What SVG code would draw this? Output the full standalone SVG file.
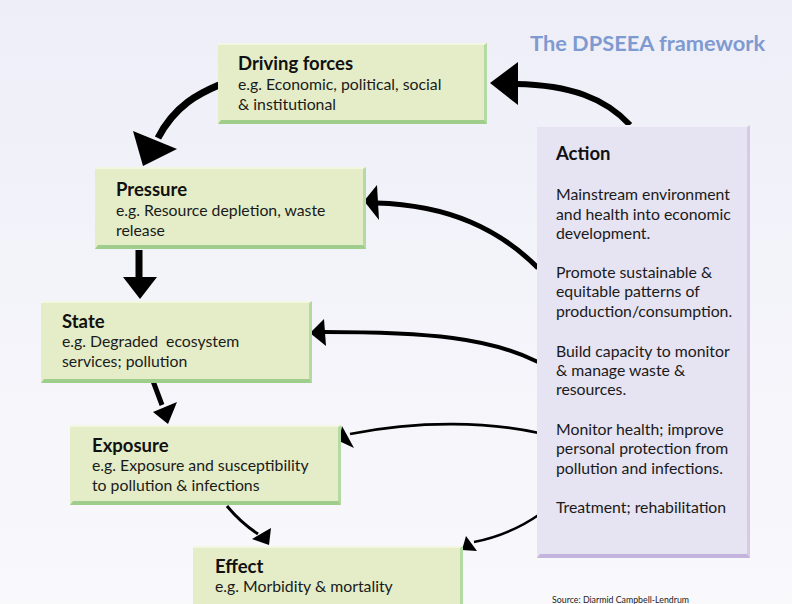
<svg xmlns="http://www.w3.org/2000/svg" width="792" height="604" viewBox="0 0 792 604">
<defs>
<linearGradient id="bg" x1="0" y1="0" x2="0" y2="1">
<stop offset="0" stop-color="#eeeef8"/>
<stop offset="1" stop-color="#f9f9fc"/>
</linearGradient>
<style>
.box{fill:#e4edc7}
.hi{fill:#f3f7e2}
.sh{fill:#9fcd8c}
.sr{fill:#b5d9a2}
.abox{fill:#e6e3f2}
.ahi{fill:#f1eff8}
.ash{fill:#c4b3dc}
.asr{fill:#d6cae6}
.t{font-family:Lato,"Open Sans","Liberation Sans",sans-serif;font-size:18.5px;font-weight:bold;fill:#111}
.b{font-family:Lato,"Open Sans","Liberation Sans",sans-serif;font-size:15.8px;fill:#1a1a1a;white-space:pre}
.ln{fill:none;stroke:#000;stroke-linecap:butt}
.hd{fill:#000}
</style>
</defs>
<rect x="0" y="0" width="792" height="604" fill="url(#bg)"/>
<text x="530" y="51" style="font-family:Lato,'Open Sans','Liberation Sans',sans-serif;font-size:21.8px;font-weight:bold;fill:#7f9ad0">The DPSEEA framework</text>

<g id="connectors">
<path class="ln" d="M219,85 C200,93 175,105 158,138" stroke-width="7"/>
<polygon class="hd" points="133,131 177,149 143,166"/>
<path class="ln" d="M139,250 L139,278" stroke-width="7"/>
<polygon class="hd" points="123,277 157,277 140,299"/>
<path class="ln" d="M153,381 L162,405" stroke-width="5"/>
<polygon class="hd" points="153,412 177,402 168,424"/>
<path class="ln" d="M227,506 Q240,522 258,534" stroke-width="3"/>
<polygon class="hd" points="252,539 271,528 269,545"/>
<path class="ln" d="M630,125 C605,98 570,85 516,84" stroke-width="6"/>
<polygon class="hd" points="518,62 518,105 490,83"/>
<path class="ln" d="M538,268 C500,230 450,205 376,203" stroke-width="5"/>
<polygon class="hd" points="377,185 379,220 364,201"/>
<path class="ln" d="M538,362 C490,338 430,332 323,332" stroke-width="4"/>
<polygon class="hd" points="324,319 326,346 310,333"/>
<path class="ln" d="M539,433 C490,422 420,420 350,434" stroke-width="2.6"/>
<polygon class="hd" points="342,426 354,448 339,441"/>
<path class="ln" d="M540,514 Q510,535 474,542" stroke-width="2.5"/>
<polygon class="hd" points="466,536 477,551 462,550"/>
</g>

<g id="driving">
<rect class="box" x="218" y="43" width="269" height="81"/>
<rect class="hi" x="218" y="43" width="269" height="2"/>
<polygon class="sr" points="484,45 487,43 487,124 484,121"/>
<polygon class="sh" points="218,124 487,124 484,120 221,120"/>
<text class="t" x="238" y="70">Driving forces</text>
<text class="b" x="238" y="90">e.g. Economic, political, social</text>
<text class="b" x="238" y="110">&amp; institutional</text>
</g>

<g id="pressure">
<rect class="box" x="95" y="167" width="271" height="82"/>
<rect class="hi" x="95" y="167" width="271" height="2"/>
<polygon class="sr" points="363,169 366,167 366,249 363,246"/>
<polygon class="sh" points="95,249 366,249 363,245 98,245"/>
<text class="t" x="116" y="196">Pressure</text>
<text class="b" x="116" y="216">e.g. Resource depletion, waste</text>
<text class="b" x="116" y="236">release</text>
</g>

<g id="state">
<rect class="box" x="41" y="301" width="271" height="82"/>
<rect class="hi" x="41" y="301" width="271" height="2"/>
<polygon class="sr" points="309,303 312,301 312,383 309,380"/>
<polygon class="sh" points="41,383 312,383 309,379 44,379"/>
<text class="t" x="62" y="328">State</text>
<text class="b" x="62" y="347" xml:space="preserve">e.g. Degraded  ecosystem</text>
<text class="b" x="62" y="367">services; pollution</text>
</g>

<g id="exposure">
<rect class="box" x="70" y="425" width="271" height="80"/>
<rect class="hi" x="70" y="425" width="271" height="2"/>
<polygon class="sr" points="338,427 341,425 341,505 338,502"/>
<polygon class="sh" points="70,505 341,505 338,501 73,501"/>
<text class="t" x="92" y="452">Exposure</text>
<text class="b" x="92" y="471">e.g. Exposure and susceptibility</text>
<text class="b" x="92" y="491">to pollution &amp; infections</text>
</g>

<g id="effect">
<rect class="box" x="193" y="546" width="270" height="60"/>
<rect class="hi" x="193" y="546" width="270" height="2"/>
<polygon class="sr" points="460,548 463,546 463,606 460,606"/>
<text class="t" x="215" y="573">Effect</text>
<text class="b" x="215" y="592">e.g. Morbidity &amp; mortality</text>
</g>

<g id="action">
<rect class="abox" x="537" y="125" width="213" height="433"/>
<rect class="ahi" x="537" y="125" width="213" height="2"/>
<polygon class="asr" points="747,127 750,125 750,558 747,554"/>
<polygon class="ash" points="537,558 750,558 747,554 540,554"/>
<text class="t" x="556" y="160">Action</text>
<text class="b" x="556" y="200">Mainstream environment</text>
<text class="b" x="556" y="220">and health into economic</text>
<text class="b" x="556" y="239">development.</text>
<text class="b" x="556" y="278">Promote sustainable &amp;</text>
<text class="b" x="556" y="297">equitable patterns of</text>
<text class="b" x="556" y="317">production/consumption.</text>
<text class="b" x="556" y="357">Build capacity to monitor</text>
<text class="b" x="556" y="376">&amp; manage waste &amp;</text>
<text class="b" x="556" y="395">resources.</text>
<text class="b" x="556" y="435">Monitor health; improve</text>
<text class="b" x="556" y="454">personal protection from</text>
<text class="b" x="556" y="474">pollution and infections.</text>
<text class="b" x="556" y="513">Treatment; rehabilitation</text>
</g>

<text x="552" y="603" style="font-family:Lato,'Liberation Sans',sans-serif;font-size:8.8px;fill:#222">Source: Diarmid Campbell-Lendrum</text>
</svg>
